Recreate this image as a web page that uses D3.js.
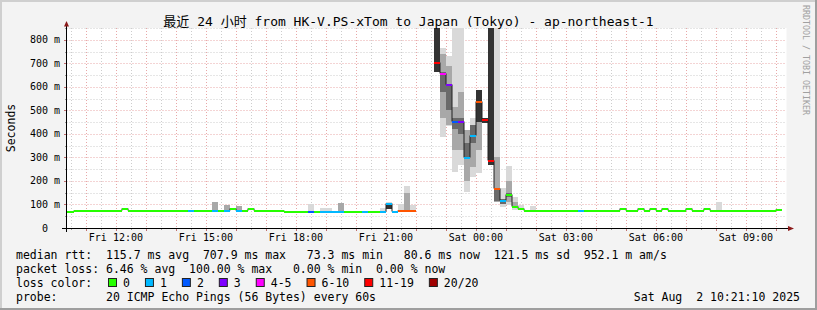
<!DOCTYPE html>
<html>
<head>
<meta charset="utf-8">
<script src="https://cdn.jsdelivr.net/npm/d3@7"></script>
<style>
body { margin: 0; background: #f3f3f3; }
svg text { font-family: "DejaVu Sans Mono", "Noto Sans CJK SC", monospace; white-space: pre; }
</style>
</head>
<body>
<svg width="817" height="310"></svg>
<script>
// 12 minute columns, the first one starts Fri 10:12 (clipped at the left edge)
let median = [
  72, 72, 77, 77, 77, 77, 77, 77, 77, 77,
  83, 77, 77, 77, 77, 77, 77, 77, 77, 77,
  77, 77, 77, 77, 77, 77, 77, 77, 83, 78,
  77, 83, 77, 77, 77, 77, 77, 74, 74, 74,
  74, 74, 74, 74, 74, 74, 74, 74, 74, 74,
  74, 74, 74, 74, 106, 74, 78, 78, 78, null,
  null, null, 708, 660, 614, 456, 456, 302, 396, 541,
  464, 290, 172, 119, 145, 94, 83, 77, 77, 77,
  77, 77, 77, 77, 77, 77, 77, 77, 77, 77,
  77, 77, 77, 83, 77, 77, 83, 75, 83, 77,
  83, 77, 77, 77, 83, 77, 77, 83, 77, 77,
  77, 77, 77, 77, 77, 77, 77, 77, 77, 80
];
// lost pings out of 20
let loss = [
  0, 0, 0, 0, 0, 0, 0, 0, 0, 0,
  0, 0, 0, 0, 0, 0, 0, 0, 0, 0,
  0, 1, 0, 0, 0, 1, 0, 1, 0, 1,
  0, 0, 0, 0, 0, 0, 0, 0, 0, 0,
  0, 2, 0, 1, 1, 1, 1, 0, 0, 0,
  1, 0, 0, 1, 1, 1, 6, 6, 6, 20,
  20, 20, 11, 4, 3, 2, 3, 1, 1, 6,
  11, 11, 6, 1, 0, 0, 0, 0, 0, 0,
  0, 0, 0, 0, 0, 0, 1, 0, 0, 0,
  0, 0, 0, 0, 0, 0, 0, 0, 0, 0,
  0, 0, 0, 0, 0, 0, 0, 0, 0, 0,
  0, 0, 0, 0, 0, 0, 0, 0, 0, 0
];

// smoke (ms) for the columns where it shows: outer / middle / inner / core bands
let smokeCol = [25, 27, 29, 41, 43, 44, 46, 53, 54, 56, 57, 58, 62, 63, 64, 65, 66, 67, 68, 69, 70, 71, 72, 73, 74, 75, 76, 78, 109];
let outerLo  = [null, null, null, 72, 72, 72, null, 72, 80, 74, 74, 76, null, 386, 435, 240, 268, 154, 218, 234, null, null, 110, 89, 98, 77, 77, 75, 75];
let outerHi  = [null, null, null, 102, 85, 85, null, 85, 110, 103, 180, 99, null, 765, 732, 900, 900, 417, 470, 587, null, null, 900, 172, 264, 133, 98, 94, 112];
let midLo    = [75, 75, 76, null, null, null, 74, null, null, null, 76, null, null, 470, 440, 330, 330, 200, 260, 330, null, null, 110, null, 110, 85, null, null, null];
let midHi    = [112, 98, 94, null, null, null, 106, null, null, null, 150, null, null, 740, 690, 516, 580, 417, 440, 587, null, null, 300, null, 200, 110, null, null, null];
let innerLo  = [null, null, null, null, null, null, null, null, null, null, null, null, null, 580, 500, 420, 400, 300, 360, null, null, null, 115, 100, 130, null, null, null, null];
let innerHi  = [null, null, null, null, null, null, null, null, null, null, null, null, null, 665, 614, 470, 470, 360, 440, null, null, null, 172, 125, 150, null, null, null, null];
let coreLo   = [null, null, null, null, null, null, null, null, 81, null, null, null, 663, null, null, null, null, null, null, 450, 445, 268, null, null, null, null, null, null, null];
let coreHi   = [null, null, null, null, null, null, null, null, 106, null, null, null, 900, null, null, null, null, null, null, 587, 470, 900, null, null, null, null, null, null, null];

let yTicks = [0, 100, 200, 300, 400, 500, 600, 700, 800];

let lossBuckets = ["0", "1", "2", "3", "4-5", "6-10", "11-19", "20/20"];
let lossColors = ["#26ff00", "#00b8ff", "#0059ff", "#7e00ff", "#ff00ff", "#ff5500", "#ff0000", "#a00000"];
let lossLimits = [1, 2, 3, 4, 6, 11, 20];

let rttStats = ["115.7 ms avg", "707.9 ms max", " 73.3 ms min", " 80.6 ms now", "121.5 ms sd", "952.1 m am/s"];
let lossStats = ["6.46 % avg", " 100.00 % max", "  0.00 % min", " 0.00 % now"];
let probeText = "20 ICMP Echo Pings (56 Bytes) every 60s";
let stamp = "Sat Aug  2 10:21:10 2025";
let title = "最近 24 小时 from HK-V.PS-xTom to Japan (Tokyo) - ap-northeast-1";

let svg = d3.select('svg');

let pLeft = 66.5, pRight = 786.5, pTop = 28, pBottom = 228;
let tStart = new Date(2025, 7, 1, 10, 21, 10);
let tEnd = new Date(2025, 7, 2, 10, 21, 10);
let firstCol = new Date(2025, 7, 1, 10, 12, 0);
let colTime = k => d3.timeMinute.offset(firstCol, 12 * k);

let xScale = d3.scaleTime().domain([tStart, tEnd]).range([pLeft, pRight]);
let yScale = d3.scaleLinear().domain([0, 851]).range([pBottom, pTop]);
let lossColor = d3.scaleThreshold().domain(lossLimits).range(lossColors);

// frame
svg.append('rect').attr('width', 817).attr('height', 310).attr('fill', '#f3f3f3');
svg.append('path').attr('d', 'M0,0H817V2H2V310H0Z').attr('fill', '#cfcfcf');
svg.append('path').attr('d', 'M817,0V310H0V308H815V0Z').attr('fill', '#9e9e9e');

svg.append('defs').append('clipPath').attr('id', 'cv')
  .append('rect').attr('x', pLeft).attr('y', pTop).attr('width', pRight - pLeft).attr('height', pBottom - pTop);

svg.append('rect').attr('x', pLeft).attr('y', pTop).attr('width', pRight - pLeft).attr('height', pBottom - pTop)
  .attr('fill', '#fff');

// grid
let grid = svg.append('g').attr('stroke-dasharray', '1,2').attr('stroke-width', 1);
d3.timeMinute.every(30).range(tStart, tEnd).forEach(t => {
  let major = t.getMinutes() === 0;
  let x = Math.round(xScale(t)) + 0.5;
  grid.append('line').attr('x1', x).attr('x2', x).attr('y1', pTop).attr('y2', pBottom)
    .attr('stroke', major ? '#e8a8a8' : '#cdcdcd');
});
d3.range(50, 851, 50).forEach(v => {
  let y = Math.round(yScale(v)) + 0.5;
  grid.append('line').attr('x1', pLeft).attr('x2', pRight).attr('y1', y).attr('y2', y)
    .attr('stroke', v % 100 === 0 ? '#e8a8a8' : '#cdcdcd');
});

// smoke
let smoke = svg.append('g').attr('clip-path', 'url(#cv)').attr('shape-rendering', 'crispEdges');
let bands = [
  [outerLo, outerHi, '#d9d9d9'],
  [midLo, midHi, '#a8a8a8'],
  [innerLo, innerHi, '#6a6a6a'],
  [coreLo, coreHi, '#333333']
];
bands.forEach(([lo, hi, c]) => {
  smokeCol.forEach((k, i) => {
    if (lo[i] == null) return;
    let xa = xScale(colTime(k)), xb = xScale(colTime(k + 1));
    smoke.append('rect')
      .attr('x', xa).attr('width', xb - xa)
      .attr('y', yScale(hi[i])).attr('height', yScale(lo[i]) - yScale(hi[i]))
      .attr('fill', c);
  });
});

// median: thin dark step line, then loss-coloured bars
let pts = [];
median.forEach((v, k) => {
  pts.push({t: colTime(k), v: v});
  if (v != null && (k === median.length - 1 || median[k + 1] == null)) pts.push({t: colTime(k + 1), v: v});
});
let plot = svg.append('g').attr('clip-path', 'url(#cv)');
plot.append('path')
  .datum(pts)
  .attr('fill', 'none')
  .attr('stroke', '#202020')
  .attr('stroke-width', 1)
  .attr('d', d3.line()
    .defined(d => d.v != null)
    .x(d => Math.round(xScale(d.t)))
    .y(d => Math.round(yScale(d.v)) + 0.5)
    .curve(d3.curveStepAfter));

plot.selectAll('rect.med')
  .data(median.map((v, k) => ({k: k, v: v, l: loss[k]})).filter(d => d.v != null))
  .enter().append('rect')
  .attr('class', 'med')
  .attr('shape-rendering', 'crispEdges')
  .attr('x', d => xScale(colTime(d.k)))
  .attr('width', d => xScale(colTime(d.k + 1)) - xScale(colTime(d.k)))
  .attr('y', d => Math.round(yScale(d.v)) - 0.5)
  .attr('height', 2)
  .attr('fill', d => lossColor(d.l));

// axes
let ax = svg.append('g').attr('shape-rendering', 'crispEdges');
d3.timeMinute.every(30).range(tStart, tEnd).forEach(t => {
  let x = Math.round(xScale(t)) + 0.5;
  ax.append('line').attr('x1', x).attr('x2', x).attr('y1', pBottom).attr('y2', pBottom + (t.getMinutes() === 0 ? 3 : 2))
    .attr('stroke', t.getMinutes() === 0 ? '#c07070' : '#999');
});
d3.range(0, 851, 50).forEach(v => {
  let y = Math.round(yScale(v)) + 0.5;
  ax.append('line').attr('x1', 67 - (v % 100 === 0 ? 3 : 2)).attr('x2', 67).attr('y1', y).attr('y2', y)
    .attr('stroke', v % 100 === 0 ? '#c07070' : '#999');
});
ax.append('line').attr('x1', 62).attr('x2', 789).attr('y1', pBottom + 0.5).attr('y2', pBottom + 0.5).attr('stroke', '#000');
ax.append('line').attr('x1', 66.5).attr('x2', 66.5).attr('y1', 232).attr('y2', 25).attr('stroke', '#000');
svg.append('path').attr('d', 'M64,26.5L69,26.5L66.5,21Z').attr('fill', '#8b1a1a');
svg.append('path').attr('d', 'M788,226L788,231L794,228.5Z').attr('fill', '#8b1a1a');

// tick labels
svg.selectAll('text.yl')
  .data(yTicks).enter().append('text')
  .attr('x', d => d === 0 ? 48 : 60)
  .attr('y', d => yScale(d) + 3.5)
  .attr('text-anchor', 'end')
  .attr('font-size', 10)
  .text(d => d === 0 ? '0' : d + ' m');

svg.selectAll('text.xl')
  .data(d3.timeHour.every(3).range(tStart, tEnd)).enter().append('text')
  .attr('x', d => xScale(d))
  .attr('y', 241)
  .attr('text-anchor', 'middle')
  .attr('font-size', 10)
  .text(d3.timeFormat('%a %H:%M'));

// titles
svg.append('text').attr('x', 408.5).attr('y', 26).attr('text-anchor', 'middle')
  .attr('font-size', 13).text(title);
svg.append('text').attr('transform', 'translate(14.5,128) rotate(-90)').attr('text-anchor', 'middle')
  .attr('font-size', 11.5).text('Seconds');
svg.append('text').attr('transform', 'translate(803,5) rotate(90)')
  .attr('font-size', 8.3).attr('fill', '#a0a0a0').text('RRDTOOL / TOBI OETIKER');

// legend
let lg = svg.append('g').attr('font-size', 11.5);
lg.append('text').attr('x', 16).attr('y', 258.5).text('median rtt:  ' + rttStats.join('  '));
lg.append('text').attr('x', 16).attr('y', 272.5).text('packet loss: ' + lossStats.join(' '));
lg.append('text').attr('x', 16).attr('y', 286.5).text('loss color:');
lg.append('text').attr('x', 16).attr('y', 300.5).text('probe:       ' + probeText);
lg.append('text').attr('x', 800).attr('y', 300.5).attr('text-anchor', 'end').text(stamp);

let bx = 108;
lossBuckets.forEach((b, i) => {
  lg.append('rect').attr('x', bx + 0.5).attr('y', 278.5).attr('width', 8).attr('height', 8)
    .attr('fill', lossColors[i]).attr('stroke', '#222').attr('stroke-width', 1);
  let t = lg.append('text').attr('x', bx + 15).attr('y', 286.5).text(b);
  bx = bx + 15 + t.node().getComputedTextLength() + 15;
});
</script>
</body>
</html>
